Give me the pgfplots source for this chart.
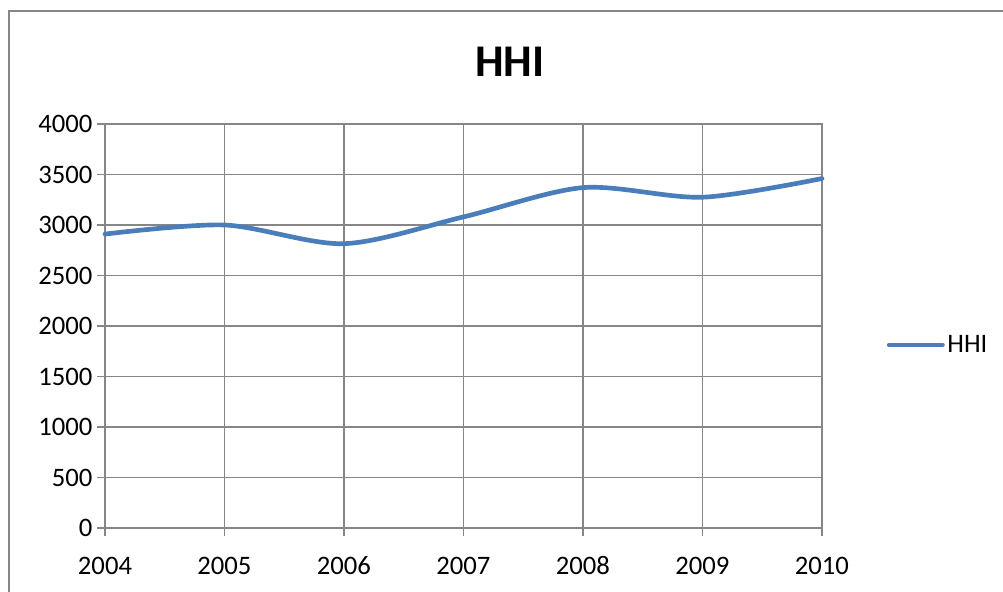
\documentclass[border=0pt]{standalone}
\usepackage{pgfplots}
\pgfplotsset{compat=1.18}
\usepackage{fontspec}
\setmainfont{Carlito}
\definecolor{xlblue}{HTML}{4A7EBB}
\definecolor{xlgrid}{HTML}{868686}
\begin{document}
\begin{tikzpicture}
% page: 1003 x 592 px at 0.75pt per px
\path[use as bounding box] (0,0) rectangle (752.25pt,444pt);
\begin{scope}
  \clip (0,0) rectangle (752.25pt,444pt);
  \draw[xlgrid, line width=1.2pt] (6.75pt,-20pt) -- (6.75pt,435.75pt) -- (780pt,435.75pt);
\end{scope}
\node[font=\fontsize{34}{40}\selectfont\bfseries] at (382.5pt,397.5pt) {HHI};
\begin{axis}[
  at={(78.75pt,48pt)}, anchor=south west,
  scale only axis, width=537.75pt, height=303pt,
  xmin=2004, xmax=2010, ymin=0, ymax=4000,
  xtick={2004,...,2010}, ytick={0,500,...,4000},
  xtick pos=lower, ytick pos=left,
  xtick align=outside, ytick align=outside, major tick length=6pt,
  xticklabel style={/pgf/number format/1000 sep={}, yshift=-12pt},
  yticklabel style={/pgf/number format/1000 sep={}},
  /pgf/number format/assume math mode=true,
  tick label style={font=\fontsize{20}{24}\selectfont},
  grid=major,
  grid style={xlgrid, line width=1.1pt},
  axis line style={xlgrid, line width=1.1pt},
  tick style={xlgrid, line width=1.1pt},
  legend style={at={(1.09,0.453)}, anchor=west, draw=none, fill=none,
    font=\fontsize{20}{24}\selectfont, inner sep=0pt},
  legend image code/.code={\draw[#1] (0pt,0pt) -- (40pt,0pt);},
  clip=false,
]
\addplot[xlblue, line width=3.5pt, smooth, line cap=round] coordinates {
  (2004,2910) (2005,3000) (2006,2815) (2007,3080)
  (2008,3370) (2009,3275) (2010,3460)
};
\addlegendentry{HHI}
\end{axis}
\end{tikzpicture}
\end{document}
